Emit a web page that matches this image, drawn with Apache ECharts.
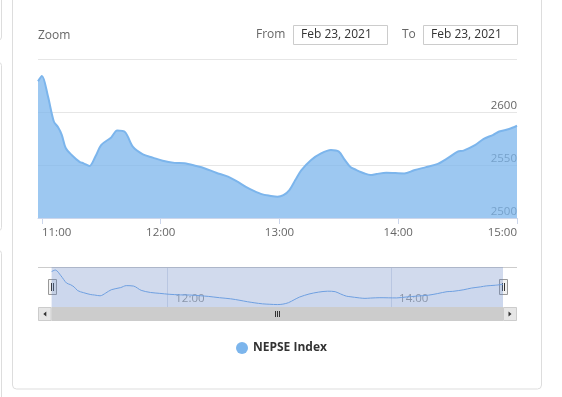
<!DOCTYPE html>
<html>
<head>
<meta charset="utf-8">
<script src="https://cdn.jsdelivr.net/npm/echarts@6/dist/echarts.min.js"></script>
<style>
  html, body { margin: 0; padding: 0; background: #fff; }
  #chart { width: 562px; height: 397px; }
</style>
</head>
<body>
<div id="chart"></div>
<script>
// NEPSE intraday, Feb 23 2021
const times = ['10:58','11:00','11:03','11:06','11:08','11:10','11:12','11:15','11:19','11:21',
  '11:24','11:27','11:30','11:35','11:38','11:42','11:46','11:51','11:56','12:01',
  '12:07','12:12','12:18','12:22','12:28','12:34','12:39','12:43','12:47','12:51',
  '12:55','12:59','13:02','13:05','13:08','13:11','13:16','13:21','13:26','13:30',
  '13:33','13:36','13:38','13:43','13:46','13:49','13:54','14:03','14:08','14:14',
  '14:20','14:25','14:30','14:33','14:39','14:43','14:48','14:51','14:56','15:00'];
const nepseValues = [2629,2634,2615,2591,2586,2578.5,2566,2559.5,2553,2551.6,
  2549,2558,2569,2576,2582.5,2581,2567,2560,2557,2554,
  2552,2551.6,2549,2547,2542.7,2539,2534,2529.4,2525.6,2522.5,
  2521,2520,2521.5,2526.3,2535.8,2545,2554.8,2561,2564.2,2562.6,
  2554.8,2547.8,2546,2542,2540.5,2541.5,2542.7,2542,2545,2548,
  2551,2556.4,2562.6,2563.6,2569,2574.4,2578.5,2581.6,2583.9,2587];
const hourTicks = ['11:00','12:00','13:00','14:00','15:00'];
const navTicks = ['12:00','14:00'];
const seriesName = 'NEPSE Index';
const dateText = 'Feb 23, 2021';

const toMin = t => { const p = t.split(':').map(Number); return p[0] * 60 + p[1]; };
const fmt = v => {
  const h = Math.floor(v / 60), m = Math.round(v % 60);
  return String(h).padStart(2, '0') + ':' + String(m).padStart(2, '0');
};

const mins = times.map(toMin);
const points = mins.map((m, i) => [m, nepseValues[i]]);
const first = mins[0], last = mins[mins.length - 1];

// layout
const plotL = 38, plotW = 479;
const navTop = 267, navH = 40;
const font = '"Open Sans", sans-serif';

const chart = echarts.init(document.getElementById('chart'));

chart.setOption({
  animation: false,
  textStyle: { fontFamily: font },
  grid: [
    { left: plotL, top: 59, width: plotW, height: 159 },
    { left: plotL, top: navTop, width: plotW, height: navH }
  ],
  xAxis: [
    {
      type: 'value', gridIndex: 0, min: first, max: last,
      axisLine: { lineStyle: { color: '#ccd6eb' } },
      axisTick: { customValues: hourTicks.map(toMin), length: 6, lineStyle: { color: '#ccd6eb' } },
      axisLabel: {
        customValues: hourTicks.map(toMin), formatter: fmt,
        color: '#666', fontSize: 11.5, margin: 9,
        alignMinLabel: 'left', alignMaxLabel: 'right'
      },
      splitLine: { show: false }
    },
    {
      type: 'value', gridIndex: 1, min: 650.7, max: 907.5,
      axisLine: { show: false },
      axisTick: { show: false, customValues: navTicks.map(toMin) },
      axisLabel: {
        customValues: navTicks.map(toMin), formatter: fmt, inside: true,
        color: '#999', fontSize: 11.5, margin: 2, align: 'left', padding: [0, 0, 0, 8]
      },
      splitLine: { show: true, lineStyle: { color: '#dde3ee' } }
    }
  ],
  yAxis: [
    {
      type: 'value', gridIndex: 0, position: 'right',
      min: 2500, max: 2650, interval: 50,
      axisLine: { show: false }, axisTick: { show: false },
      axisLabel: {
        inside: true, margin: 0, color: '#666', fontSize: 11.5,
        formatter: v => String(v),
        verticalAlign: 'bottom', padding: [0, 0, 0, 0], showMaxLabel: false
      },
      splitLine: { lineStyle: { color: '#e6e6e6' } }
    },
    {
      type: 'value', gridIndex: 1, min: 2512, max: 2644, show: false
    }
  ],
  legend: {
    data: [seriesName], left: 231, top: 337,
    icon: 'circle', itemWidth: 12, itemHeight: 12, itemGap: 10,
    textStyle: { color: '#333', fontWeight: 'bold', fontSize: 12, fontFamily: font }
  },
  series: [
    {
      name: seriesName, type: 'line', xAxisIndex: 0, yAxisIndex: 0,
      data: points, symbol: 'none', smooth: 0.3,
      color: '#7cb5ec',
      lineStyle: { width: 2, color: '#7cb5ec' },
      areaStyle: { color: '#7cb5ec', opacity: 0.75, origin: 'start' }
    },
    {
      name: 'navigator', type: 'line', xAxisIndex: 1, yAxisIndex: 1,
      data: points, symbol: 'none', smooth: 0.3, silent: true,
      lineStyle: { width: 1, color: '#6e9fe0' },
      areaStyle: { color: '#7cb5ec', opacity: 0.05, origin: 'start' },
      markArea: {
        silent: true,
        itemStyle: { color: 'rgba(102,133,194,0.3)' },
        data: [[{ xAxis: first }, { xAxis: last }]]
      }
    }
  ]
});

// range selector header, navigator handles and scrollbar
const xa = chart.convertToPixel({ xAxisIndex: 1 }, first);
const xb = chart.convertToPixel({ xAxisIndex: 1 }, last);
const sbTop = navTop + navH, sbH = 14;
const handle = x => ({
  type: 'group', x: Math.round(x) - 4, y: navTop + 12,
  children: [
    { type: 'rect', shape: { x: 0.5, y: 0.5, width: 8, height: 15 }, style: { fill: '#f2f2f2', stroke: '#999', lineWidth: 1 } },
    { type: 'line', shape: { x1: 3.5, y1: 4, x2: 3.5, y2: 12 }, style: { stroke: '#333', lineWidth: 1 } },
    { type: 'line', shape: { x1: 5.5, y1: 4, x2: 5.5, y2: 12 }, style: { stroke: '#333', lineWidth: 1 } }
  ]
});
const grip = (x => [0, 2, 4].map(d => ({
  type: 'line', shape: { x1: x + d + 0.5, y1: sbTop + 4, x2: x + d + 0.5, y2: sbTop + 10 },
  style: { stroke: '#333', lineWidth: 1 }
})))(Math.round((xa + xb) / 2) - 2);
const header = [
  { type: 'text', x: plotL, y: 36, style: { text: 'Zoom', fill: '#666', font: '12px ' + font, textVerticalAlign: 'middle' } },
  { type: 'text', x: 256, y: 35, style: { text: 'From', fill: '#666', font: '12px ' + font, textVerticalAlign: 'middle' } },
  { type: 'rect', shape: { x: 293.5, y: 25.5, width: 94, height: 19 }, style: { fill: '#fff', stroke: '#ccc' } },
  { type: 'text', x: 301, y: 35, style: { text: dateText, fill: '#333', font: '12px ' + font, textVerticalAlign: 'middle' } },
  { type: 'text', x: 402, y: 35, style: { text: 'To', fill: '#666', font: '12px ' + font, textVerticalAlign: 'middle' } },
  { type: 'rect', shape: { x: 423.5, y: 25.5, width: 94, height: 19 }, style: { fill: '#fff', stroke: '#ccc' } },
  { type: 'text', x: 431, y: 35, style: { text: dateText, fill: '#333', font: '12px ' + font, textVerticalAlign: 'middle' } }
];
const frame = [
  { type: 'rect', shape: { x: 12.5, y: -10, width: 529, height: 399, r: 4 }, style: { fill: 'none', stroke: '#ddd' } },
  { type: 'rect', shape: { x: -10, y: -10, width: 11.5, height: 50, r: 3 }, style: { fill: 'none', stroke: '#ddd' } },
  { type: 'rect', shape: { x: -10, y: 62.5, width: 11.5, height: 168, r: 3 }, style: { fill: 'none', stroke: '#ddd' } },
  { type: 'rect', shape: { x: -10, y: 250.5, width: 11.5, height: 160, r: 3 }, style: { fill: 'none', stroke: '#ddd' } }
];
const nav = [
  { type: 'line', shape: { x1: plotL, y1: navTop + 0.5, x2: plotL + plotW, y2: navTop + 0.5 }, style: { stroke: '#ccc' } },
  { type: 'rect', shape: { x: plotL, y: sbTop, width: plotW, height: sbH }, style: { fill: '#f2f2f2' } },
  { type: 'rect', shape: { x: xa, y: sbTop, width: xb - xa, height: sbH }, style: { fill: '#ccc' } },
  { type: 'rect', shape: { x: plotL + 0.5, y: sbTop + 0.5, width: xa - plotL - 1, height: sbH - 1 }, style: { fill: '#e6e6e6', stroke: '#ccc' } },
  { type: 'rect', shape: { x: xb + 0.5, y: sbTop + 0.5, width: plotL + plotW - xb - 1, height: sbH - 1 }, style: { fill: '#e6e6e6', stroke: '#ccc' } },
  { type: 'polygon', shape: { points: [[(plotL + xa) / 2 - 1.5, sbTop + 7], [(plotL + xa) / 2 + 1.5, sbTop + 4.5], [(plotL + xa) / 2 + 1.5, sbTop + 9.5]] }, style: { fill: '#333' } },
  { type: 'polygon', shape: { points: [[(xb + plotL + plotW) / 2 + 1.5, sbTop + 7], [(xb + plotL + plotW) / 2 - 1.5, sbTop + 4.5], [(xb + plotL + plotW) / 2 - 1.5, sbTop + 9.5]] }, style: { fill: '#333' } },
  handle(xa), handle(xb)
].concat(grip);

chart.setOption({ graphic: header.concat(frame, nav) });
</script>
</body>
</html>
